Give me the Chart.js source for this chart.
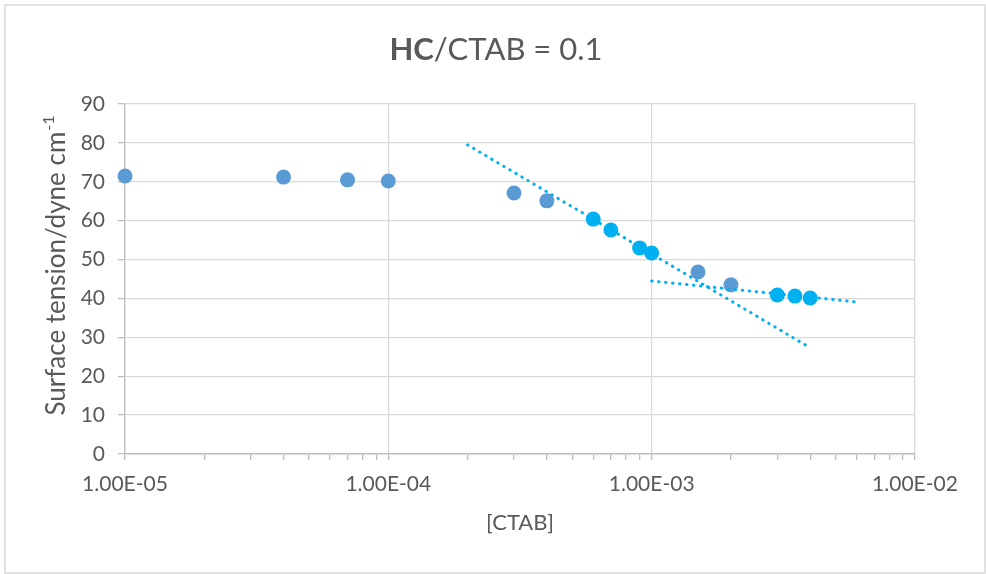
<!DOCTYPE html>
<html>
<head>
<meta charset="utf-8">
<script src="https://cdn.jsdelivr.net/npm/chart.js@4/dist/chart.umd.min.js"></script>
<style>
  html, body { margin: 0; padding: 0; background: #fff; }
  #wrap { width: 986px; height: 574px; position: relative; }
</style>
</head>
<body>
<div id="wrap"><canvas id="c" width="986" height="574"></canvas></div>
<script>
// [CTAB] concentrations (mol/L) and measured surface tension (dyne/cm)
const concMain = [1e-5, 4e-5, 7e-5, 1e-4, 3e-4, 4e-4, 1.5e-3, 2e-3];
const tensionMain = [71.5, 71.2, 70.5, 70.2, 67.1, 65.1, 46.8, 43.5];

// points used for the two fitted lines (below and above the CMC)
const concFit = [6e-4, 7e-4, 9e-4, 1e-3, 3e-3, 3.5e-3, 4e-3];
const tensionFit = [60.4, 57.6, 53.0, 51.7, 40.9, 40.6, 40.1];

// logarithmic trend lines, given by their end points
const steepLineX = [2e-4, 4e-3];
const steepLineY = [79.5, 27.3];
const flatLineX = [1e-3, 6e-3];
const flatLineY = [44.5, 39.1];

// axis ticks
const xDecades = [1e-5, 1e-4, 1e-3, 1e-2];
const xTickLabels = ['1.00E-05', '1.00E-04', '1.00E-03', '1.00E-02'];
const yTicks = [0, 10, 20, 30, 40, 50, 60, 70, 80, 90];

const chartTitleBold = 'HC';
const chartTitleRest = '/CTAB = 0.1';
const yTitleMain = 'Surface tension/dyne cm';
const yTitleSup = '-1';
const xTitle = '[CTAB]';

const FONT = 'Lato, "Open Sans", "Liberation Sans", sans-serif';
const TEXT = '#595959';
const GRID = '#D9D9D9';
const BLUE = '#5B9BD5';
const CYAN = '#00B0F0';

const pts = (xs, ys) => xs.map((x, i) => ({ x: x, y: ys[i] }));

// every 1..9 multiple inside the plotted decades, for the minor tick marks
const xAllTicks = [];
for (let d = 0; d < xDecades.length; d++) {
  if (d === xDecades.length - 1) { xAllTicks.push(xDecades[d]); break; }
  for (let m = 1; m <= 9; m++) xAllTicks.push(+(m * xDecades[d]).toPrecision(3));
}
const isDecade = v => xDecades.some(d => Math.abs(d - v) / d < 1e-6);

const frame = {
  id: 'frame',
  beforeDraw(chart) {
    const ctx = chart.ctx;
    ctx.save();
    ctx.fillStyle = '#fff';
    ctx.fillRect(0, 0, chart.width, chart.height);
    ctx.strokeStyle = GRID;
    ctx.lineWidth = 1.5;
    ctx.strokeRect(5, 5, 980, 568);
    ctx.restore();
  },
  afterDraw(chart) {
    const ctx = chart.ctx;
    const area = chart.chartArea;
    ctx.save();
    ctx.fillStyle = TEXT;
    // chart title with a bold first part
    ctx.textBaseline = 'alphabetic';
    ctx.font = 'bold 31px ' + FONT;
    const wb = ctx.measureText(chartTitleBold).width;
    ctx.font = '31px ' + FONT;
    const wr = ctx.measureText(chartTitleRest).width;
    let tx = 496 - (wb + wr) / 2;
    ctx.font = 'bold 31px ' + FONT;
    ctx.fillText(chartTitleBold, tx, 60);
    ctx.font = '31px ' + FONT;
    ctx.fillText(chartTitleRest, tx + wb, 60);

    // y axis title with superscript
    ctx.save();
    ctx.translate(57, 266);
    ctx.rotate(-Math.PI / 2);
    ctx.textBaseline = 'middle';
    ctx.font = '26px ' + FONT;
    const w1 = ctx.measureText(yTitleMain).width;
    ctx.font = '16px ' + FONT;
    const w2 = ctx.measureText(yTitleSup).width;
    const sx = -(w1 + w2) / 2;
    ctx.font = '26px ' + FONT;
    ctx.fillText(yTitleMain, sx, 0);
    ctx.font = '16px ' + FONT;
    ctx.fillText(yTitleSup, sx + w1 + 1, -8);
    ctx.restore();

    // x axis title
    ctx.textAlign = 'center';
    ctx.textBaseline = 'middle';
    ctx.font = '22px ' + FONT;
    ctx.fillText(xTitle, (area.left + area.right) / 2, 523);
    ctx.restore();
  }
};

new Chart(document.getElementById('c'), {
  type: 'scatter',
  data: {
    datasets: [
      {
        label: 'fit below CMC',
        data: pts(steepLineX, steepLineY),
        showLine: true,
        borderColor: CYAN,
        borderWidth: 3,
        borderDash: [0.5, 6.5],
        borderCapStyle: 'round',
        pointRadius: 0,
        pointHoverRadius: 0
      },
      {
        label: 'fit above CMC',
        data: pts(flatLineX, flatLineY),
        showLine: true,
        borderColor: CYAN,
        borderWidth: 3,
        borderDash: [0.5, 6.5],
        borderCapStyle: 'round',
        pointRadius: 0,
        pointHoverRadius: 0
      },
      {
        label: 'fitted points',
        data: pts(concFit, tensionFit),
        backgroundColor: CYAN,
        borderWidth: 0,
        pointRadius: 7.5,
        clip: false
      },
      {
        label: 'surface tension',
        data: pts(concMain, tensionMain),
        backgroundColor: BLUE,
        borderWidth: 0,
        pointRadius: 7.5,
        clip: false
      }
    ]
  },
  options: {
    responsive: false,
    animation: false,
    layout: { padding: { top: 104, right: 71, left: 0, bottom: 0 } },
    plugins: {
      legend: { display: false },
      title: { display: false },
      tooltip: { enabled: false }
    },
    scales: {
      x: {
        type: 'logarithmic',
        min: 1e-5,
        max: 1e-2,
        afterBuildTicks(scale) { scale.ticks = xAllTicks.map(v => ({ value: v })); },
        afterFit(scale) { scale.height = 120; },
        border: { color: '#BFBFBF', width: 1.5 },
        grid: {
          color: c => (c.tick && isDecade(c.tick.value)) ? GRID : 'rgba(0,0,0,0)',
          tickColor: '#BFBFBF',
          tickLength: 6,
          lineWidth: 1.3
        },
        ticks: {
          autoSkip: false,
          maxRotation: 0,
          padding: 12,
          color: TEXT,
          font: { family: FONT, size: 21 },
          callback: v => {
            const i = xDecades.findIndex(d => Math.abs(d - v) / d < 1e-6);
            return i >= 0 ? xTickLabels[i] : '';
          }
        }
      },
      y: {
        min: 0,
        max: 90,
        afterBuildTicks(scale) { scale.ticks = yTicks.map(v => ({ value: v })); },
        afterFit(scale) { scale.width = 125; },
        border: { color: '#BFBFBF', width: 1.3 },
        grid: { color: GRID, tickColor: '#BFBFBF', tickLength: 7, lineWidth: 1.3 },
        ticks: {
          padding: 13,
          color: TEXT,
          font: { family: FONT, size: 21 }
        }
      }
    }
  },
  plugins: [frame]
});
</script>
</body>
</html>
